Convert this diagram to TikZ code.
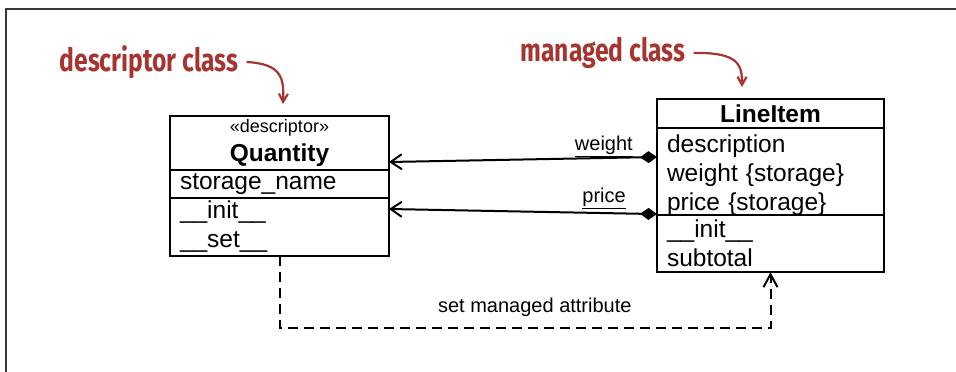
\documentclass[tikz,border=0pt]{standalone}
\usepackage{fontspec}
\setmainfont{Liberation Sans}
\newfontfamily\notefont[FakeStretch=0.77]{Fira Sans}
\usetikzlibrary{arrows.meta,positioning}
\definecolor{notered}{RGB}{166,52,48}
\definecolor{framegray}{RGB}{55,55,55}
\tikzset{
  compartment/.style={
    draw,
    line width=2pt,
    outer sep=0pt,
    inner xsep=10pt,
    inner ysep=0pt,
    align=left,
    font=\fontsize{24.5}{29}\selectfont
  },
  headcompartment/.style={
    compartment,
    align=center
  },
  assoc/.style={
    line width=2pt,
    {Straight Barb[length=11pt,width=15pt,line width=2pt]}-{Diamond[length=17pt,width=12pt]}
  },
  rolelabel/.style={
    inner sep=0pt,
    font=\fontsize{20}{22}\selectfont
  },
  dependency/.style={
    line width=2pt,
    dash pattern=on 10pt off 6pt,
    -{Straight Barb[length=13pt,width=14pt,line width=2pt]}
  },
  note/.style={
    inner sep=0pt,
    text=notered,
    font=\notefont\bfseries\fontsize{32}{32}\selectfont
  },
  notearrow/.style={
    draw=notered,
    line width=2.2pt,
    -{Straight Barb[length=8pt,width=9pt,line width=2.2pt]}
  }
}

\begin{document}
\begin{tikzpicture}[x=1pt,y=-1pt]
  \useasboundingbox (0,0) rectangle (956,372);
  \draw[framegray,line width=1.5pt] (956,9) -- (6,9) -- (6,372);

  % descriptor class
  \node[headcompartment, anchor=north west, text width=199pt, minimum height=54pt] (qhead) at (170,116)
    {{\fontsize{18}{26}\selectfont «descriptor»}\\\textbf{Quantity}};
  \node[compartment, below=0pt of qhead, text width=199pt, minimum height=28pt] (qattr) {storage\_name};
  \node[compartment, below=0pt of qattr, text width=199pt, minimum height=58pt] (qmeth) {\_\_init\_\_\\\_\_set\_\_};

  % managed class
  \node[headcompartment, anchor=north west, text width=207pt, minimum height=29pt,
        font=\fontsize{24.5}{25}\selectfont] (lhead) at (657,99)
    {\textbf{LineItem}};
  \node[compartment, below=0pt of lhead, text width=207pt, minimum height=87pt] (lattr)
    {\rule{0pt}{24pt}description\\weight \{storage\}\\price \{storage\}};
  \node[compartment, below=0pt of lattr, text width=207pt, minimum height=57pt] (lmeth) {\_\_init\_\_\\subtotal};

  % associations
  \coordinate (wfrom) at ([yshift=-29pt]lattr.north west);
  \coordinate (wto) at ([yshift=8pt]qhead.south east);
  \coordinate (pfrom) at ([yshift=1pt]lattr.south west);
  \coordinate (pto) at ([yshift=-11pt]qmeth.north east);
  \draw[assoc] (wto) -- (wfrom);
  \draw[assoc] (pto) -- (pfrom);
  \node[rolelabel, anchor=east] (wlabel) at ([xshift=-24pt,yshift=11pt]wfrom) {\underline{weight}};
  \node[rolelabel, anchor=east] (plabel) at ([xshift=-31pt,yshift=16pt]pfrom) {\underline{price}};

  \draw[dependency] (qmeth.south) -- ++(0,72) -| (lmeth.south)
    node[rolelabel, pos=0.26, above=10pt] (deplabel) {set managed attribute};

  % hand-written notes
  \node[note] (dnote) at (149,62) {descriptor class};
  \coordinate (dtip) at (283,104);
  \draw[notearrow] ([xshift=8pt]dnote.east) .. controls (282,64) and (284,78) .. (dtip);
  \node[note] (mnote) at (603,53) {managed class};
  \coordinate (mtip) at (742,87);
  \draw[notearrow] ([xshift=8pt]mnote.east) .. controls (740,52) and (742,66) .. (mtip);
\end{tikzpicture}
\end{document}
